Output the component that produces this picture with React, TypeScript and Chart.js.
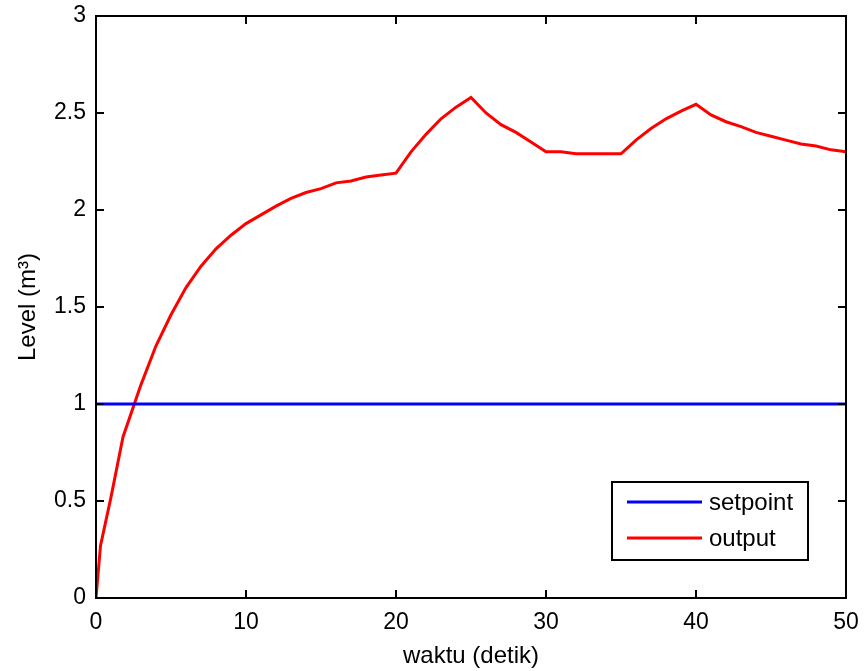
import React, { useEffect, useRef } from "react";
import { Chart, registerables } from "chart.js";

Chart.register(...registerables);

const timeSec = [0, 0.3, 1, 1.8, 3, 4, 5, 6, 7, 8, 9, 10, 11, 12, 13, 14, 15, 16, 17, 18, 19, 20, 21, 22, 23, 24, 25, 26, 27, 28, 29, 30, 31, 32, 33, 34, 35, 36, 37, 38, 39, 40, 41, 42, 43, 44, 45, 46, 47, 48, 49, 50];
const outputLevel = [0, 0.27, 0.52, 0.83, 1.1, 1.3, 1.46, 1.6, 1.71, 1.8, 1.87, 1.93, 1.975, 2.02, 2.06, 2.09, 2.11, 2.14, 2.15, 2.17, 2.18, 2.19, 2.3, 2.39, 2.47, 2.53, 2.58, 2.5, 2.44, 2.4, 2.35, 2.3, 2.3, 2.29, 2.29, 2.29, 2.29, 2.36, 2.42, 2.47, 2.51, 2.545, 2.49, 2.455, 2.43, 2.4, 2.38, 2.36, 2.34, 2.33, 2.31, 2.3];
const setpointTime = [0, 50];
const setpointLevel = [1, 1];
const xTickStep = 10;
const yTickStep = 0.5;
const xLabel = "waktu (detik)";
const yLabel = "Level (m\u00B3)";
const seriesNames = ["setpoint", "output"];

const FONT = "'Liberation Sans', Arial, Helvetica, sans-serif";
const FS = 23;
const FS_TITLE = 24;

const matlabPlugin = {
  id: "matlabBox",
  afterDatasetsDraw(chart: any) {
    const { ctx, chartArea, scales } = chart;
    const { left, right, top, bottom } = chartArea;
    const xs = scales.x;
    const ys = scales.y;
    ctx.save();
    ctx.strokeStyle = "#000";
    ctx.lineWidth = 2;
    ctx.strokeRect(left, top, right - left, bottom - top);
    const tl = 8;
    ctx.beginPath();
    xs.ticks.forEach((t: any) => {
      const px = Math.round(xs.getPixelForValue(t.value));
      ctx.moveTo(px, bottom);
      ctx.lineTo(px, bottom - tl);
      ctx.moveTo(px, top);
      ctx.lineTo(px, top + tl);
    });
    ys.ticks.forEach((t: any) => {
      const py = Math.round(ys.getPixelForValue(t.value));
      ctx.moveTo(left, py);
      ctx.lineTo(left + tl, py);
      ctx.moveTo(right, py);
      ctx.lineTo(right - tl, py);
    });
    ctx.stroke();

    // legend box (bottom-right, inside axes)
    const boxW = 196;
    const boxH = 78;
    const bx = right - 38 - boxW;
    const by = bottom - 38 - boxH;
    ctx.fillStyle = "#fff";
    ctx.fillRect(bx, by, boxW, boxH);
    ctx.lineWidth = 2;
    ctx.strokeStyle = "#000";
    ctx.strokeRect(bx, by, boxW, boxH);
    const ds = chart.data.datasets;
    ctx.font = `${FS_TITLE}px ${FONT}`;
    ctx.textBaseline = "middle";
    ctx.textAlign = "left";
    ds.forEach((d: any, i: number) => {
      const ly = by + 20 + i * 36;
      ctx.strokeStyle = d.borderColor;
      ctx.lineWidth = 3;
      ctx.beginPath();
      ctx.moveTo(bx + 15, ly);
      ctx.lineTo(bx + 90, ly);
      ctx.stroke();
      ctx.fillStyle = "#000";
      ctx.fillText(d.label, bx + 97, ly + 1);
    });
    ctx.restore();
  },
};

export default function App() {
  const ref = useRef<HTMLCanvasElement | null>(null);
  useEffect(() => {
    document.body.style.margin = "0";
    const canvas = ref.current;
    if (!canvas) return;
    const chart = new Chart(canvas, {
      type: "line",
      data: {
        datasets: [
          {
            label: seriesNames[0],
            data: setpointTime.map((t, i) => ({ x: t, y: setpointLevel[i] })),
            borderColor: "#0000ff",
            backgroundColor: "#0000ff",
            borderWidth: 3,
            pointRadius: 0,
            tension: 0,
          },
          {
            label: seriesNames[1],
            data: timeSec.map((t, i) => ({ x: t, y: outputLevel[i] })),
            borderColor: "#ff0000",
            backgroundColor: "#ff0000",
            borderWidth: 3,
            pointRadius: 0,
            tension: 0,
          },
        ],
      },
      options: {
        responsive: false,
        animation: false,
        layout: { padding: { left: 0, right: 18, top: 16, bottom: 0 } },
        plugins: {
          legend: { display: false },
          tooltip: { enabled: false },
        },
        scales: {
          x: {
            type: "linear",
            min: 0,
            max: 50,
            grid: { display: false, drawTicks: false },
            border: { display: false },
            ticks: {
              stepSize: xTickStep,
              color: "#000",
              padding: 11,
              font: { family: FONT, size: FS },
              callback: (v: any) => String(v),
              maxRotation: 0,
            },
            title: {
              display: true,
              text: xLabel,
              color: "#000",
              font: { family: FONT, size: FS_TITLE },
              padding: { top: 6, bottom: 0 },
            },
            afterFit: (s: any) => {
              s.height = 73;
              s.paddingLeft = 0;
              s.paddingRight = 0;
            },
          },
          y: {
            type: "linear",
            min: 0,
            max: 3,
            grid: { display: false, drawTicks: false },
            border: { display: false },
            ticks: {
              stepSize: yTickStep,
              color: "#000",
              padding: 10,
              font: { family: FONT, size: FS },
              callback: (v: any) => String(v),
            },
            title: {
              display: true,
              text: yLabel,
              color: "#000",
              font: { family: FONT, size: FS_TITLE },
              padding: { top: 14, bottom: 0 },
            },
            afterFit: (s: any) => {
              s.width = 96;
              s.paddingTop = 0;
              s.paddingBottom = 0;
            },
          },
        },
      },
      plugins: [matlabPlugin],
    });
    return () => chart.destroy();
  }, []);
  return (
    <div style={{ width: 864, height: 671, background: "#fff" }}>
      <canvas ref={ref} width={864} height={671} style={{ display: "block" }} />
    </div>
  );
}
